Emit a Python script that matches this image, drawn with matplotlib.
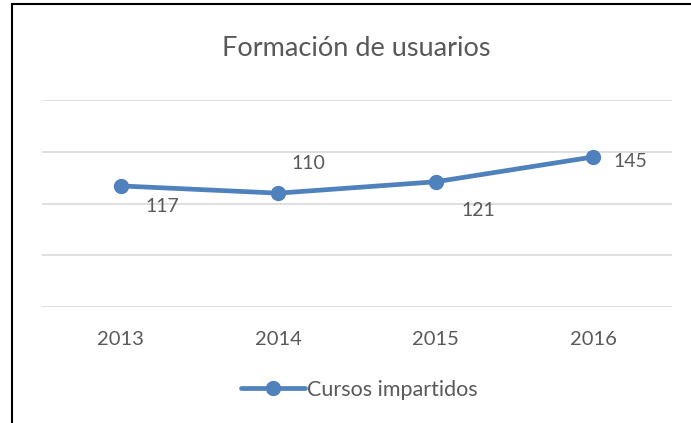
import matplotlib.pyplot as plt
from matplotlib.patches import Rectangle

# chart data
years = ["2013", "2014", "2015", "2016"]
cursos = [117, 110, 121, 145]
# label offsets (points) relative to each marker, as placed in the original
label_dx = [30, 22, 31, 27]
label_dy = [-15, 21, -21, -3]

plt.rcParams['font.family'] = ['Lato', 'DejaVu Sans']
text_color = '#595959'
line_color = '#4F81BD'

fig = plt.figure(figsize=(6.91, 4.23), dpi=100)
ax = fig.add_axes([0.0608, 0.2742, 0.9117, 0.4894])

x = range(len(years))
ax.plot(x, cursos, color=line_color, linewidth=3.4, marker='o', markersize=10,
        label="Cursos impartidos", solid_capstyle='round')

for i, v in enumerate(cursos):
    ax.annotate(str(v), (i, v), xytext=(label_dx[i], label_dy[i]),
                textcoords='offset points', ha='center', va='center',
                fontsize=14, color=text_color)

ax.set_xlim(-0.5, 3.5)
ax.set_ylim(0, 200)
ax.set_yticks([0, 50, 100, 150, 200])
ax.set_yticklabels([])
ax.set_xticks(list(x))
ax.set_xticklabels(years, fontsize=14.5, color=text_color)
ax.tick_params(axis='both', length=0)
ax.tick_params(axis='x', pad=17)
ax.grid(axis='y', color='#D9D9D9', linewidth=1.2)
ax.set_axisbelow(True)
for s in ax.spines.values():
    s.set_visible(False)

fig.text(0.515, 0.885, "Formación de usuarios", ha='center', va='center',
         fontsize=19.5, color=text_color)

fig.legend(loc='center', bbox_to_anchor=(0.52, 0.078), frameon=False,
           fontsize=15.5, labelcolor=text_color, handlelength=3.0,
           handletextpad=0.1)

# outer chart frame
fig.patches.append(Rectangle((12 / 691, -0.1), 1.2, 1 - 4 / 423 + 0.1,
                             transform=fig.transFigure, fill=False,
                             edgecolor='black', linewidth=1.5))

fig.savefig("out.png", dpi=100)
